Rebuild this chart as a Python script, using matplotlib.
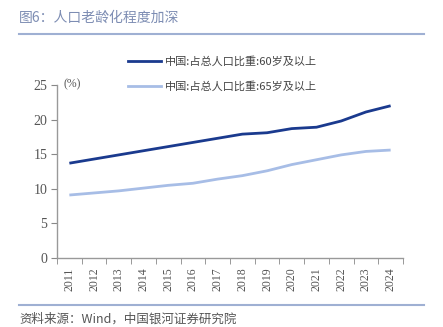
import matplotlib
matplotlib.use("Agg")
import matplotlib.pyplot as plt
from matplotlib.lines import Line2D

years = ["2011", "2012", "2013", "2014", "2015", "2016", "2017", "2018", "2019", "2020", "2021", "2022", "2023", "2024"]
share_60 = [13.7, 14.3, 14.9, 15.5, 16.1, 16.7, 17.3, 17.9, 18.1, 18.7, 18.9, 19.8, 21.1, 22.0]
share_65 = [9.1, 9.4, 9.7, 10.1, 10.5, 10.8, 11.4, 11.9, 12.6, 13.5, 14.2, 14.9, 15.4, 15.6]
label_60 = "中国:占总人口比重:60岁及以上"
label_65 = "中国:占总人口比重:65岁及以上"
y_ticks = [0, 5, 10, 15, 20, 25]

plt.rcParams['font.family'] = ['Noto Sans CJK SC', 'DejaVu Sans']

W, H = 443, 327
fig = plt.figure(figsize=(W / 100, H / 100), dpi=100)
ax = fig.add_axes([57 / W, 1 - 258 / H, (403 - 57) / W, (258 - 85) / H])

x = list(range(len(years)))
c60 = "#1a3a8e"
c65 = "#a7bde6"
ax.plot(x, share_60, color=c60, lw=2.0, solid_capstyle='butt')
ax.plot(x, share_65, color=c65, lw=2.0, solid_capstyle='butt')

ax.set_xlim(-0.5, len(years) - 0.5)
ax.set_ylim(0, 25)
ax.set_yticks(y_ticks)
ax.set_yticklabels([str(v) for v in y_ticks], family='Liberation Serif', fontsize=10, color="#555555")
ax.set_xticks(x)
ax.set_xticklabels(years, rotation=90, family='Liberation Serif', fontsize=8.5, color="#555555")
ax.tick_params(axis='x', which='major', length=0, pad=7)
ax.set_xticks([i - 0.5 for i in range(len(years) + 1)], minor=True)
ax.tick_params(axis='x', which='minor', length=4, color="#888888", direction='out')
ax.tick_params(axis='y', which='major', length=4, color="#888888", direction='out', pad=3)
for s in ['top', 'right']:
    ax.spines[s].set_visible(False)
for s in ['left', 'bottom']:
    ax.spines[s].set_color("#999999")
    ax.spines[s].set_linewidth(1.0)

fig.text(63 / W, 1 - 84 / H, "(%)", family='Liberation Serif', fontsize=8.5, color="#555555", va='center', ha='left')

# legend
fig.add_artist(Line2D([128 / W, 161 / W], [1 - 61 / H, 1 - 61 / H], color=c60, lw=2.0, transform=fig.transFigure))
fig.add_artist(Line2D([128 / W, 161 / W], [1 - 86 / H, 1 - 86 / H], color=c65, lw=2.0, transform=fig.transFigure))
fig.text(165 / W, 1 - 61 / H, label_60, fontsize=8, color="#444444", va='center', ha='left')
fig.text(165 / W, 1 - 86 / H, label_65, fontsize=8, color="#444444", va='center', ha='left')

# title and footer
fig.text(19 / W, 1 - 18 / H, "图6：人口老龄化程度加深", fontsize=10, color="#7d8db3", va='center', ha='left')
fig.add_artist(Line2D([19 / W, 424 / W], [1 - 34 / H, 1 - 34 / H], color="#9fb0d3", lw=1.5, transform=fig.transFigure))
fig.add_artist(Line2D([19 / W, 424 / W], [1 - 305 / H, 1 - 305 / H], color="#9fb0d3", lw=1.5, transform=fig.transFigure))
fig.text(19 / W, 1 - 319 / H, "资料来源：Wind，中国银河证券研究院", fontsize=9, color="#555555", va='center', ha='left')

fig.savefig("out.png", dpi=100)
